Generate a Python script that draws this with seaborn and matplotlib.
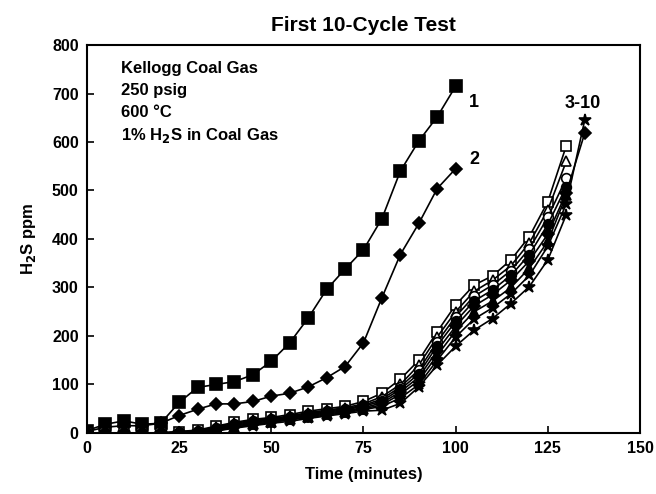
import numpy as np
import matplotlib
matplotlib.use('agg')
import matplotlib.pyplot as plt
import pandas as pd
import seaborn as sns

# time points (minutes)
time_100 = [0, 5, 10, 15, 20, 25, 30, 35, 40, 45, 50, 55, 60, 65, 70, 75, 80, 85, 90, 95, 100]
time_130 = time_100 + [105, 110, 115, 120, 125, 130]
time_135 = time_130 + [135]

# H2S ppm, cycles 1 and 2
cycle_1 = [5, 18, 25, 18, 20, 63, 94, 100, 106, 120, 148, 186, 237, 296, 338, 378, 442, 540, 602, 652, 715]
cycle_2 = [3, 12, 15, 15, 20, 36, 49, 60, 60, 65, 76, 82, 95, 114, 137, 186, 279, 368, 432, 504, 545]

# cycles 3-10
cycle_3 = [0, 0, 0, 0, 0, 3, 6, 14, 22, 28, 32, 38, 45, 50, 55, 65, 82, 111, 150, 209, 264, 305, 324, 357, 405, 477, 592]
cycle_4 = [0, 0, 0, 0, 0, 2, 5, 12, 20, 26, 30, 35, 42, 47, 52, 60, 75, 100, 140, 198, 250, 292, 315, 345, 392, 460, 560]
cycle_5 = [0, 0, 0, 0, 0, 2, 4, 10, 18, 24, 28, 33, 40, 45, 50, 57, 70, 95, 130, 188, 240, 282, 305, 335, 380, 445, 525]
cycle_6 = [0, 0, 0, 0, 0, 1, 3, 8, 16, 22, 27, 31, 38, 43, 48, 55, 66, 90, 122, 180, 230, 272, 295, 325, 368, 430, 508]
cycle_7 = [0, 0, 0, 0, 0, 1, 3, 7, 14, 20, 25, 30, 36, 41, 46, 52, 62, 85, 115, 170, 220, 262, 285, 315, 355, 410, 495, 618]
cycle_8 = [0, 0, 0, 0, 0, 0, 2, 6, 12, 18, 23, 28, 34, 39, 44, 50, 58, 80, 108, 160, 210, 250, 272, 300, 340, 395, 490]
cycle_9 = [0, 0, 0, 0, 0, 0, 2, 5, 11, 17, 22, 27, 32, 37, 42, 48, 55, 72, 100, 150, 198, 235, 258, 287, 325, 385, 472, 645]
cycle_10 = [0, 0, 0, 0, 0, 0, 1, 4, 10, 15, 20, 24, 30, 35, 40, 45, 47, 61, 95, 140, 179, 212, 236, 267, 302, 357, 450]

notes = ["Kellogg Coal Gas", "250 psig", "600 °C", "1% H$_2$S in Coal Gas"]

series = [
    # (times, values, marker, face, size)
    (time_100, cycle_1, 's', 'black', 8),
    (time_100, cycle_2, 'D', 'black', 6.5),
    (time_130, cycle_3, 's', 'white', 7),
    (time_130, cycle_4, '^', 'white', 7),
    (time_130, cycle_5, 'o', 'white', 7),
    (time_130, cycle_6, 'o', 'black', 7),
    (time_135, cycle_7, 'D', 'black', 6),
    (time_130, cycle_8, '^', 'black', 7),
    (time_135, cycle_9, '*', 'black', 9),
    (time_130, cycle_10, '*', 'black', 9),
]

sns.set_style('ticks')
plt.rcParams['font.family'] = ['Liberation Sans', 'DejaVu Sans']
plt.rcParams['font.weight'] = 'bold'
plt.rcParams['text.color'] = 'black'
plt.rcParams['axes.labelcolor'] = 'black'
plt.rcParams['xtick.color'] = 'black'
plt.rcParams['ytick.color'] = 'black'
plt.rcParams['axes.edgecolor'] = 'black'

fig = plt.figure(figsize=(6.56, 4.94), dpi=100)
ax = fig.add_axes([0.1326, 0.1235, 0.843, 0.7854])

for t, v, m, face, ms in series:
    sns.lineplot(x=t, y=v, ax=ax, color='black', linewidth=1.2, marker=m,
                 markersize=ms, markerfacecolor=face, markeredgecolor='black',
                 markeredgewidth=1.2)

ax.set_xlim(0, 150)
ax.set_ylim(0, 800)
ax.set_xticks([0, 25, 50, 75, 100, 125, 150])
ax.set_yticks(np.arange(0, 801, 100))
ax.tick_params(direction='in', length=5, width=1.2, labelsize=11.5, pad=6)
for s in ax.spines.values():
    s.set_linewidth(1.5)
for lab in ax.get_xticklabels() + ax.get_yticklabels():
    lab.set_fontweight('bold')

ax.set_title("First 10-Cycle Test", fontsize=15, fontweight='bold', pad=10)
ax.set_xlabel("Time (minutes)", fontsize=12, fontweight='bold', labelpad=8)
ax.set_ylabel("H$_2$S ppm", fontsize=12, fontweight='bold', labelpad=10)

for i, line in enumerate(notes):
    ax.text(9.2, 752 - i * 46, line, fontsize=12, fontweight='bold', va='center', ha='left')

ax.text(105, 682, "1", fontsize=13, fontweight='bold', va='center', ha='center')
ax.text(105, 563, "2", fontsize=13, fontweight='bold', va='center', ha='center')
ax.text(134.5, 680, "3-10", fontsize=13, fontweight='bold', va='center', ha='center')

fig.savefig('out.png', dpi=100)
